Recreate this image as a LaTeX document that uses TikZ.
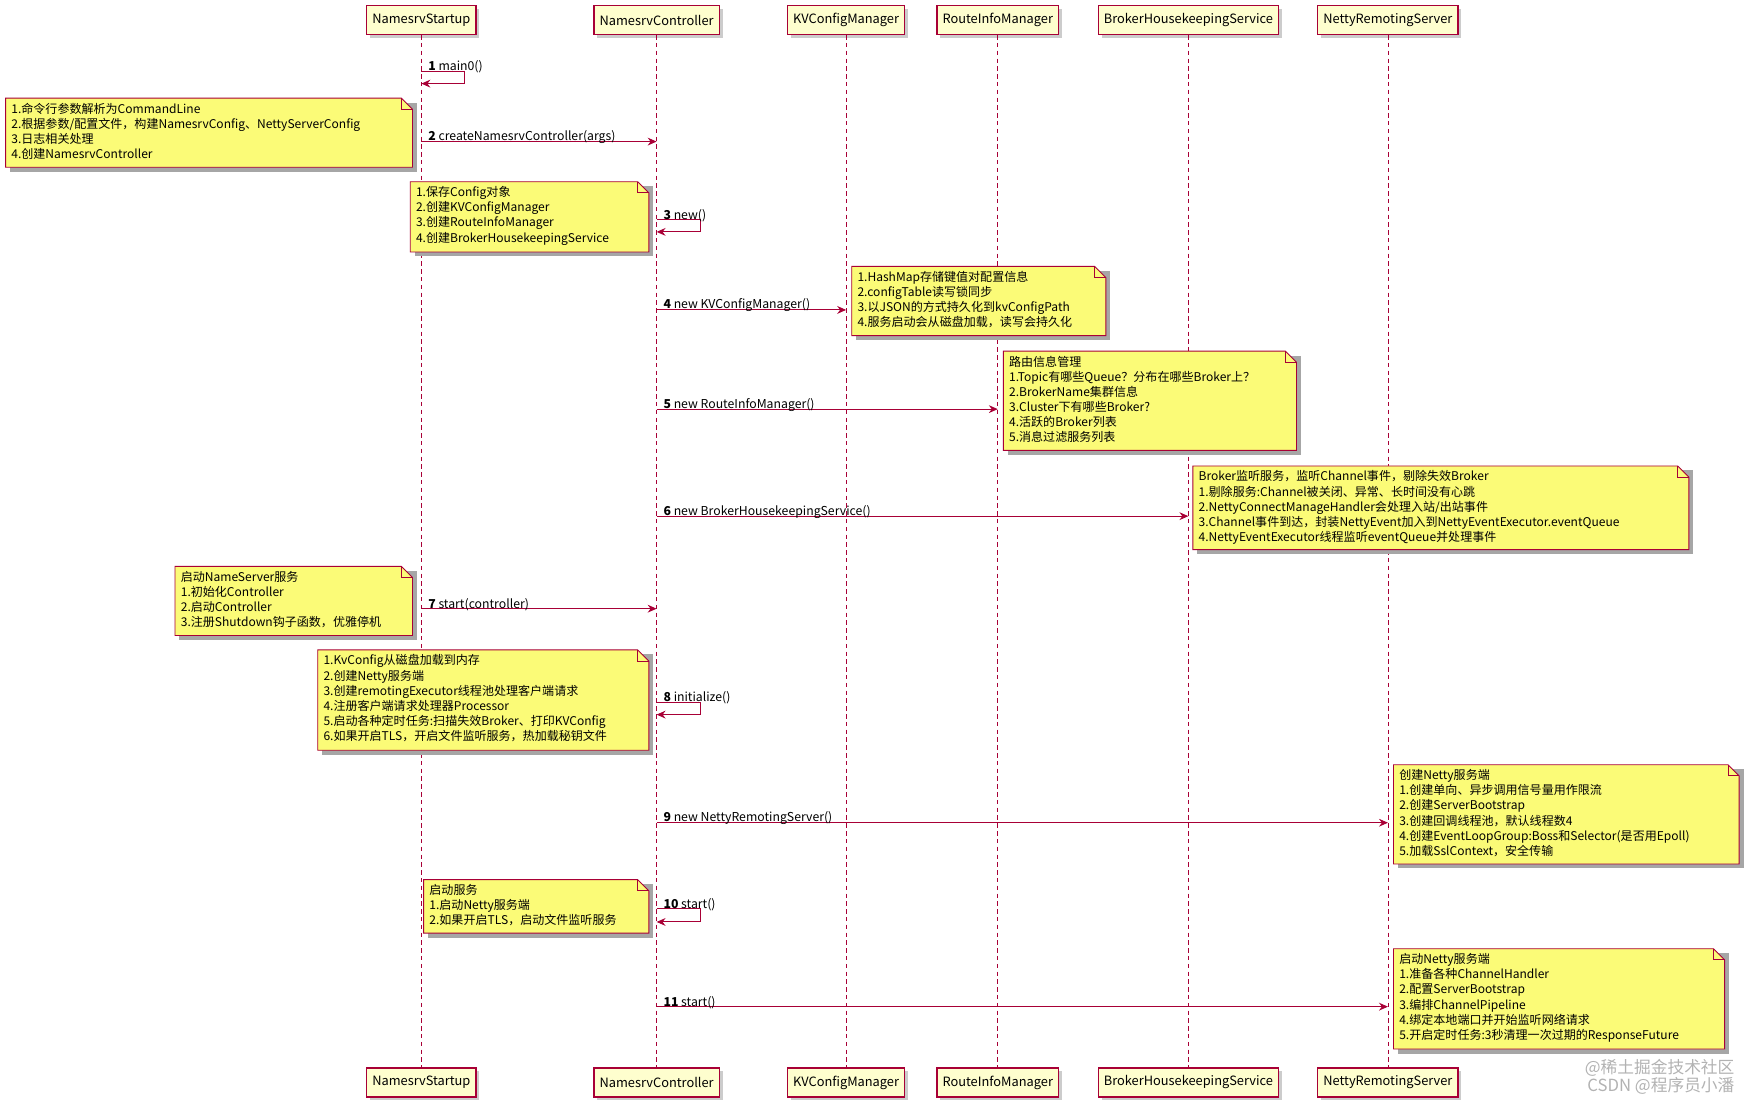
\documentclass[tikz,border=0pt]{standalone}
\usepackage{fontspec}
\setmainfont{Noto Sans CJK SC}
\usetikzlibrary{arrows.meta,shadows}
\definecolor{pu}{HTML}{A80036}
\definecolor{headf}{HTML}{FEFECE}
\definecolor{notef}{HTML}{FBFB77}
\tikzset{
 head/.style={draw=pu,fill=headf,line width=1pt,minimum height=26pt,inner xsep=5pt,font=\fontsize{11.5}{13}\selectfont,drop shadow={shadow xshift=3pt,shadow yshift=-3pt,fill=black!40}},
 life/.style={draw=pu,dashed,line width=0.7pt,dash pattern=on 4pt off 3pt},
 msg/.style={draw=pu,line width=0.9pt,-{Stealth[length=8pt,width=7pt]}},
 lbl/.style={font=\fontsize{11}{13}\selectfont,anchor=south west,inner sep=1pt},
 notebox/.style={draw=pu,fill=notef,line width=0.8pt},
 notetxt/.style={font=\fontsize{10.8}{13.6}\selectfont,align=left,anchor=north west,inner sep=0pt},
}
\newcommand\mknote[6]{%
 \fill[black!35] (#2+4,#3+4) -- (#4+4,#3+4) -- (#4+4,#5+4) -- (#2+4,#5+4) -- cycle;
 \draw[notebox] (#2,#3) -- (#4-10,#3) -- (#4,#3+10) -- (#4,#5) -- (#2,#5) -- cycle;
 \draw[pu,line width=0.8pt] (#4-10,#3) -- (#4-10,#3+10) -- (#4,#3+10);
 \node[notetxt] (#1) at (#2+5,#3+4) {#6};}
\begin{document}
\begin{tikzpicture}[x=1pt,y=-1pt]
\useasboundingbox (0,0) rectangle (1568,997);
\foreach \n/\x/\t in {ns/378/NamesrvStartup,nc/589/NamesrvController,kv/759/KVConfigManager,ri/895/RouteInfoManager,bh/1066/BrokerHousekeepingService,nr/1245/NettyRemotingServer}{
 \node[head] (\n t) at (\x,18) {\t};
 \node[head] (\n b) at (\x,971) {\t};
 \draw[life] (\n t.south) -- (\n b.north);
}
% notes
\mknote{n1}{5}{88}{370}{150}{1.命令行参数解析为CommandLine\\2.根据参数/配置文件，构建NamesrvConfig、NettyServerConfig\\3.日志相关处理\\4.创建NamesrvController}
\mknote{n2}{368}{163}{582}{226}{1.保存Config对象\\2.创建KVConfigManager\\3.创建RouteInfoManager\\4.创建BrokerHousekeepingService}
\mknote{n3}{764}{239}{992}{301}{1.HashMap存储键值对配置信息\\2.configTable读写锁同步\\3.以JSON的方式持久化到kvConfigPath\\4.服务启动会从磁盘加载，读写会持久化}
\mknote{n4}{900}{315}{1163}{404}{路由信息管理\\1.Topic有哪些Queue？分布在哪些Broker上？\\2.BrokerName集群信息\\3.Cluster下有哪些Broker?\\4.活跃的Broker列表\\5.消息过滤服务列表}
\mknote{n5}{1070}{418}{1515}{493}{Broker监听服务，监听Channel事件，剔除失效Broker\\1.剔除服务:Channel被关闭、异常、长时间没有心跳\\2.NettyConnectManageHandler会处理入站/出站事件\\3.Channel事件到达，封装NettyEvent加入到NettyEventExecutor.eventQueue\\4.NettyEventExecutor线程监听eventQueue并处理事件}
\mknote{n6}{157}{508}{370}{570}{启动NameServer服务\\1.初始化Controller\\2.启动Controller\\3.注册Shutdown钩子函数，优雅停机}
\mknote{n7}{285}{583}{582}{673}{1.KvConfig从磁盘加载到内存\\2.创建Netty服务端\\3.创建remotingExecutor线程池处理客户端请求\\4.注册客户端请求处理器Processor\\5.启动各种定时任务:扫描失效Broker、打印KVConfig\\6.如果开启TLS，开启文件监听服务，热加载秘钥文件}
\mknote{n8}{1250}{686}{1560}{775}{创建Netty服务端\\1.创建单向、异步调用信号量用作限流\\2.创建ServerBootstrap\\3.创建回调线程池，默认线程数4\\4.创建EventLoopGroup:Boss和Selector(是否用Epoll)\\5.加载SslContext，安全传输}
\mknote{n9}{380}{789}{582}{837}{启动服务\\1.启动Netty服务端\\2.如果开启TLS，启动文件监听服务}
\mknote{n10}{1250}{851}{1547}{941}{启动Netty服务端\\1.准备各种ChannelHandler\\2.配置ServerBootstrap\\3.编排ChannelPipeline\\4.绑定本地端口并开始监听网络请求\\5.开启定时任务:3秒清理一次过期的ResponseFuture}
% messages
\foreach \i/\ya/\yb/\l/\txt in {1/64/75/ns/main0(),3/197/208/nc/new(),8/630/641/nc/initialize(),10/815/827/nc/start()}{
 \coordinate (s\i a) at (\l t.south |- 0,\ya);
 \coordinate (s\i b) at (\l t.south |- 0,\yb);
 \draw[msg] (s\i a) -- ++(39,0) |- (s\i b);
 \node[lbl] (m\i) at ([xshift=5pt,yshift=-3pt]s\i a) {\textbf{\i} \txt};
}
\foreach \i/\y/\f/\t/\txt in {2/127/ns/nc/createNamesrvController(args),4/278/nc/kv/new KVConfigManager(),5/367/nc/ri/new RouteInfoManager(),6/463/nc/bh/new BrokerHousekeepingService(),7/546/ns/nc/start(controller),9/738/nc/nr/new NettyRemotingServer(),11/903/nc/nr/start()}{
 \coordinate (a\i) at (\f t.south |- 0,\y);
 \coordinate (b\i) at (\t t.south |- 0,\y);
 \draw[msg] (a\i) -- (b\i);
 \node[lbl] (m\i) at ([xshift=5pt,yshift=-3pt]a\i) {\textbf{\i} \txt};
}
\node[font=\fontsize{15}{16}\selectfont,text=black!30,anchor=north east,align=right,inner sep=0pt] (wm) at (1556,950) {@稀土掘金技术社区\\CSDN @程序员小潘};
\end{tikzpicture}
\end{document}
